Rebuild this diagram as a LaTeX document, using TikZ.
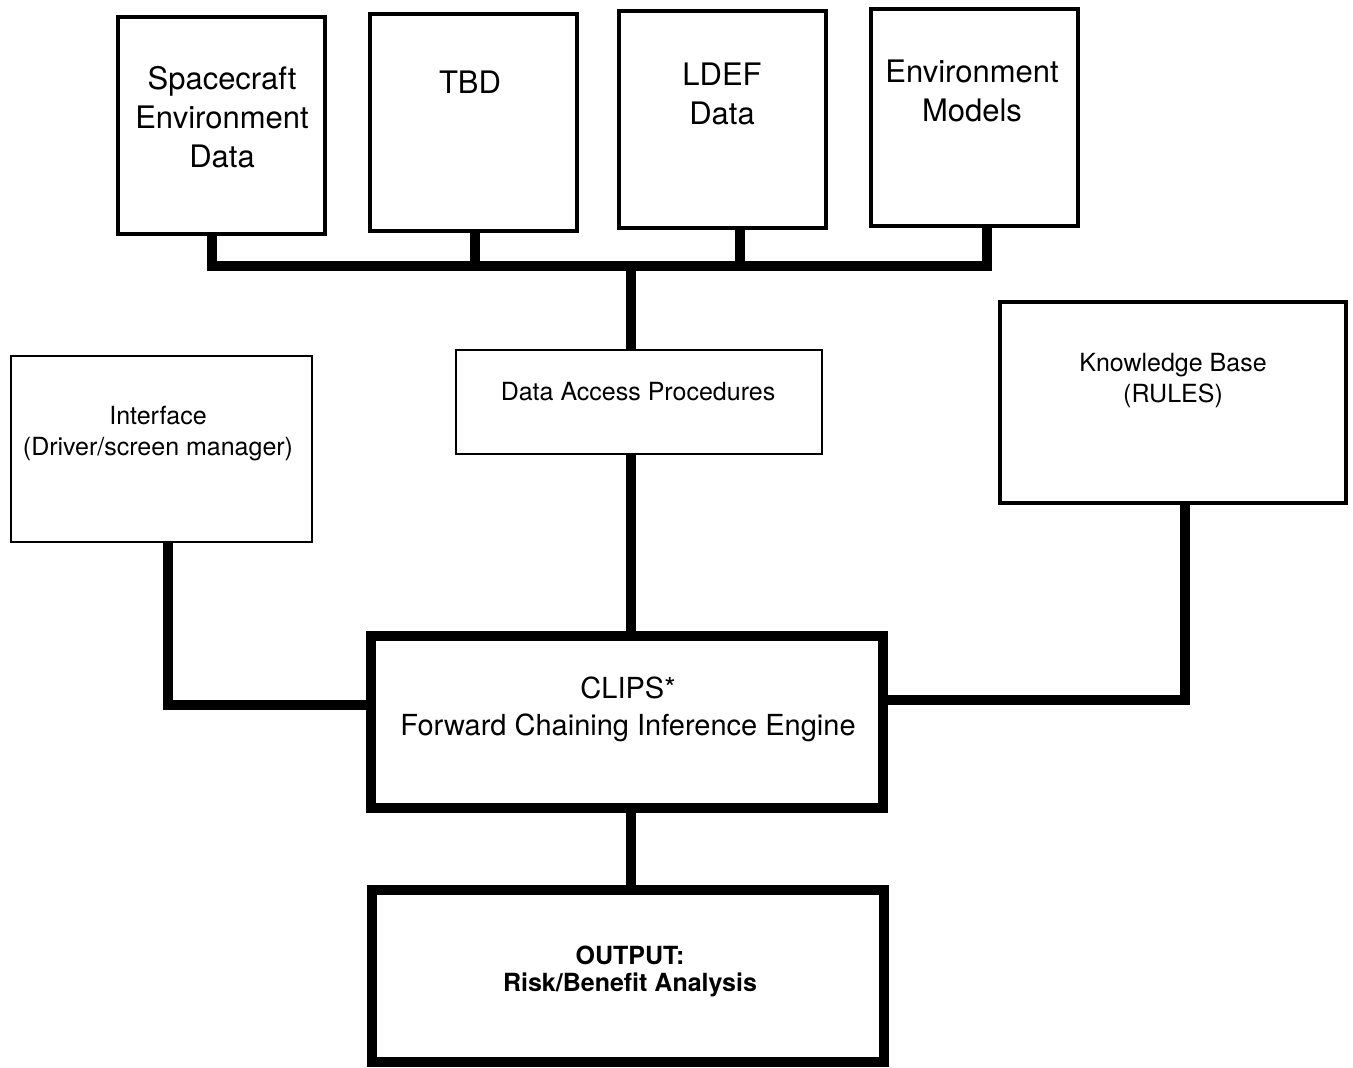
\documentclass[tikz,border=0pt]{standalone}
\usepackage{fontspec}
\setmainfont{TeX Gyre Heros}
\usepackage{tikz}

\begin{document}
\begin{tikzpicture}[x=.5pt,y=-.5pt,
  srcbox/.style={draw,line width=2pt,inner sep=0pt,minimum width=103.5pt,minimum height=108.5pt},
  thinbox/.style={draw,line width=1pt,inner sep=0pt},
  corebox/.style={draw,line width=5pt,inner sep=0pt,minimum width=256pt,minimum height=86pt},
  wire/.style={line width=5pt},
  srctxt/.style={align=center,font=\fontsize{15.5}{19.5}\selectfont},
  boxtxt/.style={align=center,font=\fontsize{12.5}{15.5}\selectfont},
  coretxt/.style={align=center,font=\fontsize{14.5}{18.5}\selectfont}]
\useasboundingbox (0,0) rectangle (1353,1068);
\node[srcbox] (sed) at (221,125.5) {};
\node[srcbox] (tbd) at (473.5,122.5) {};
\node[srcbox] (ldef) at (722.5,120) {};
\node[srcbox] (envm) at (974.5,117.5) {};
\node[thinbox,minimum width=150.5pt,minimum height=93pt] (iface) at (161.5,449) {};
\node[thinbox,minimum width=183pt,minimum height=52pt] (dap) at (639,402) {};
\node[thinbox,line width=1.75pt,minimum width=173pt,minimum height=100.5pt] (kb) at (1173,402.5) {};
\node[corebox] (clips) at (626.5,722) {};
\node[corebox] (out) at (628,976) {};
\node[srctxt] (sedtxt) at (222,117.5) {Spacecraft\\Environment\\Data};
\node[srctxt] (tbdtxt) at (470,82) {TBD};
\node[srctxt] (ldeftxt) at (722,94) {LDEF\\Data};
\node[srctxt] (envmtxt) at (972,91) {Environment\\Models};
\node[boxtxt] (ifacetxt) at (158,433.5) {Interface\\(Driver/screen manager)};
\node[boxtxt] (daptxt) at (638,392) {Data Access Procedures};
\node[boxtxt] (kbtxt) at (1173,380.5) {Knowledge Base\\(RULES)};
\node[coretxt] (clipstxt) at (628,709.5) {CLIPS*\\Forward Chaining Inference Engine};
\node[boxtxt,font=\fontsize{12.5}{13.5}\selectfont\bfseries] (outtxt) at (630,971.5) {OUTPUT:\\Risk/Benefit Analysis};
\coordinate (b1) at (212,266);
\coordinate (b2) at (475,266);
\coordinate (b3) at (740,266);
\coordinate (b4) at (987,266);
\coordinate (b0) at (631,266);
\coordinate (ic) at (168,705);
\coordinate (kc) at (1185,700);
\draw[wire] (b1 |- sed.south) -- (b1) -- (b4) -- (b4 |- envm.south);
\draw[wire] (b2 |- tbd.south) -- (b2);
\draw[wire] (b3 |- ldef.south) -- (b3);
\draw[wire] (b0) -- (b0 |- dap.north);
\draw[wire] (b0 |- dap.south) -- (b0 |- clips.north);
\draw[wire] (ic |- iface.south) -- (ic) -- (ic -| clips.west);
\draw[wire] (kc |- kb.south) -- (kc) -- (kc -| clips.east);
\draw[wire] (b0 |- clips.south) -- (b0 |- out.north);
\end{tikzpicture}
\end{document}
